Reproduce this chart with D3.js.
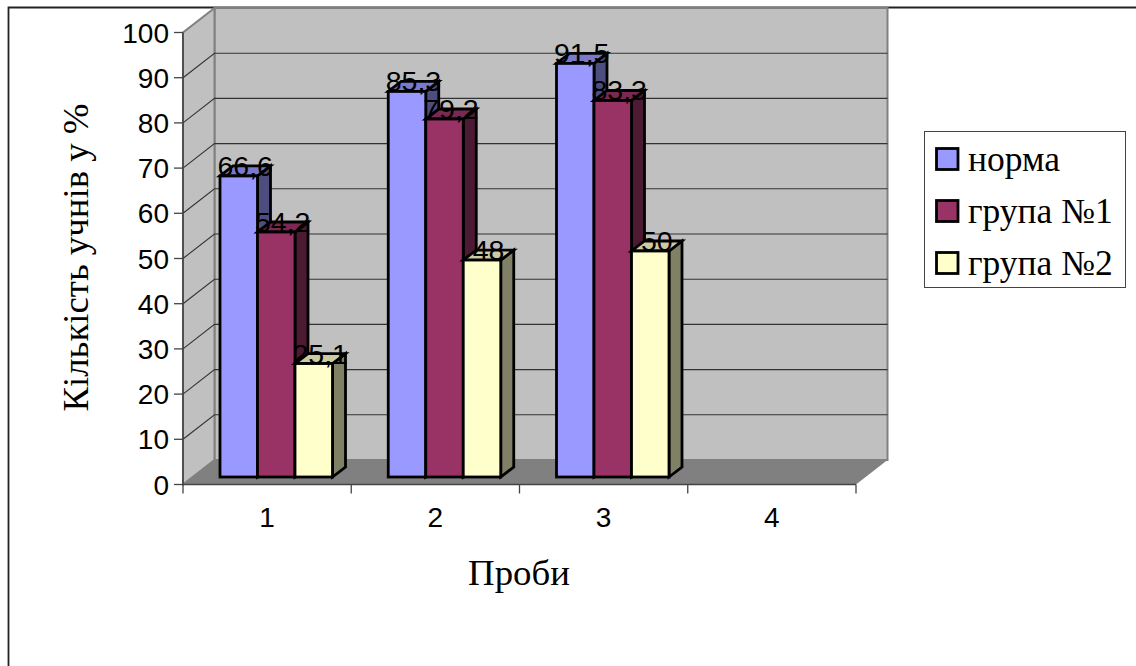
<!DOCTYPE html>
<html lang="uk">
<head>
<meta charset="utf-8">
<style>
  html, body { margin: 0; padding: 0; background: #fff; }
  svg { display: block; }
</style>
</head>
<body>
<svg id="chart" width="1136" height="666"></svg>
<script src="https://cdn.jsdelivr.net/npm/d3@7/dist/d3.min.js"></script>
<script>
const categories = ["1", "2", "3", "4"];
const seriesNames = ["норма", "група №1", "група №2"];
const norma = [66.6, 85.3, 91.5, null];
const group1 = [54.2, 79.2, 83.3, null];
const group2 = [25.1, 48, 50, null];
const seriesValues = [norma, group1, group2];
const valueTicks = d3.range(0, 101, 10);
const frontFaces = ["#9999ff", "#993366", "#ffffcc"];
const topFaces = ["#7a7acc", "#7a2952", "#cccca3"];
const sideFaces = ["#4d4d80", "#4d1a33", "#808066"];

const svg = d3.select("#chart");

// Frame around the whole chart area
svg.append("path")
  .attr("d", "M8.5,666V7.5H1136")
  .attr("fill", "none").attr("stroke", "#222").attr("stroke-width", 1.8);

// Oblique projection: the back wall sits up and to the right of the front plane
const wallDx = 31.5, wallDy = -24.5;
const y = d3.scaleLinear().domain([0, 100]).range([484.5, 32.5]);
const x = d3.scaleBand().domain(categories).range([183, 856]);
const barDepthX = 13, barDepthY = -10;
const barOffsetX = 37, barOffsetY = -7.5;
const barWidth = 37.5;

const plot = svg.append("g");
const xLeft = x.range()[0], xRight = x.range()[1];

// Back wall
plot.append("rect")
  .attr("x", xLeft + wallDx).attr("y", y(100) + wallDy)
  .attr("width", xRight - xLeft).attr("height", y(0) - y(100))
  .attr("fill", "#c0c0c0").attr("stroke", "#808080").attr("stroke-width", 2);

// Side wall
plot.append("path")
  .attr("d", `M${xLeft},${y(0)}L${xLeft},${y(100)}L${xLeft + wallDx},${y(100) + wallDy}L${xLeft + wallDx},${y(0) + wallDy}Z`)
  .attr("fill", "#c0c0c0").attr("stroke", "#808080").attr("stroke-width", 2);

// Floor
plot.append("path")
  .attr("d", `M${xLeft},${y(0)}L${xLeft + wallDx},${y(0) + wallDy}L${xRight + wallDx},${y(0) + wallDy}L${xRight},${y(0)}Z`)
  .attr("fill", "#808080");

// Gridlines running along the side and back walls
const gridTicks = valueTicks.filter(v => v > 0 && v < 100);
plot.selectAll("path.grid").data(gridTicks).join("path")
  .attr("class", "grid")
  .attr("d", v => `M${xLeft},${y(v)}L${xLeft + wallDx},${y(v) + wallDy}L${xRight + wallDx},${y(v) + wallDy}`)
  .attr("fill", "none").attr("stroke", "#333").attr("stroke-width", 1.1);

// Axis lines and ticks
const axisColor = "#444";
plot.append("path")
  .attr("d", `M${xLeft},${y(100)}L${xLeft},${y(0)}L${xRight},${y(0)}`)
  .attr("fill", "none").attr("stroke", axisColor).attr("stroke-width", 1.6);
plot.selectAll("line.ytick").data(valueTicks).join("line")
  .attr("class", "ytick")
  .attr("x1", xLeft - 9).attr("x2", xLeft)
  .attr("y1", v => y(v)).attr("y2", v => y(v))
  .attr("stroke", axisColor).attr("stroke-width", 1.3);
const bandEdges = categories.map(c => x(c)).concat([xRight]);
plot.selectAll("line.xtick").data(bandEdges).join("line")
  .attr("class", "xtick")
  .attr("x1", d => d).attr("x2", d => d)
  .attr("y1", y(0)).attr("y2", y(0) + 9)
  .attr("stroke", axisColor).attr("stroke-width", 1.3);

// Tick labels
const sans = "'Liberation Sans', Arial, sans-serif";
const serif = "'Liberation Serif', 'Times New Roman', serif";
plot.selectAll("text.ylab").data(valueTicks).join("text")
  .attr("class", "ylab")
  .attr("x", xLeft - 14).attr("y", v => y(v) + 10)
  .attr("text-anchor", "end")
  .attr("font-family", sans).attr("font-size", 28)
  .text(d => d);
plot.selectAll("text.xlab").data(categories).join("text")
  .attr("class", "xlab")
  .attr("x", c => x(c) + x.bandwidth() / 2).attr("y", 527)
  .attr("text-anchor", "middle")
  .attr("font-family", sans).attr("font-size", 28)
  .text(d => d);

// Bars, drawn group by group from left to right so nearer faces overlap
const barLayer = svg.append("g");
const labelLayer = svg.append("g");
categories.forEach((cat, ci) => {
  seriesValues.forEach((vals, si) => {
    const v = vals[ci];
    if (v == null) return;
    const bx = x(cat) + barOffsetX + si * barWidth;
    const by = y(v) + barOffsetY;
    const base = y(0) + barOffsetY;
    const g = barLayer.append("g")
      .attr("stroke", "#000").attr("stroke-width", 2.8).attr("stroke-linejoin", "miter");
    g.append("path")
      .attr("d", `M${bx + barWidth},${base}V${by}l${barDepthX},${barDepthY}V${base + barDepthY}Z`)
      .attr("fill", sideFaces[si]);
    g.append("path")
      .attr("d", `M${bx},${by}h${barWidth}l${barDepthX},${barDepthY}h${-barWidth}Z`)
      .attr("fill", topFaces[si]);
    g.append("rect")
      .attr("x", bx).attr("y", by)
      .attr("width", barWidth).attr("height", base - by)
      .attr("fill", frontFaces[si]);
    labelLayer.append("text")
      .attr("x", bx + barWidth / 2 + 6.5).attr("y", by)
      .attr("text-anchor", "middle")
      .attr("font-family", sans).attr("font-size", 28.5).attr("fill", "#000")
      .text(String(v).replace(".", ","));
  });
});

// Axis titles
svg.append("text")
  .attr("transform", "translate(88,257.5) rotate(-90)")
  .attr("text-anchor", "middle")
  .attr("font-family", serif).attr("font-size", 36.8)
  .text("Кількість учнів у %");
svg.append("text")
  .attr("x", 519).attr("y", 585)
  .attr("text-anchor", "middle")
  .attr("font-family", serif).attr("font-size", 36.8)
  .text("Проби");

// Legend
const legend = svg.append("g");
legend.append("rect")
  .attr("x", 924.5).attr("y", 131.5).attr("width", 201).attr("height", 156)
  .attr("fill", "#fff").attr("stroke", "#444").attr("stroke-width", 1);
const legendRows = d3.scalePoint().domain(seriesNames).range([159, 263]);
seriesNames.forEach((name, i) => {
  legend.append("rect")
    .attr("x", 936.5).attr("y", legendRows(name) - 10.5)
    .attr("width", 21.5).attr("height", 21)
    .attr("fill", frontFaces[i]).attr("stroke", "#000").attr("stroke-width", 2.8);
  legend.append("text")
    .attr("x", 968).attr("y", legendRows(name) + 12)
    .attr("font-family", serif).attr("font-size", 35.5)
    .text(name);
});
</script>
</body>
</html>
